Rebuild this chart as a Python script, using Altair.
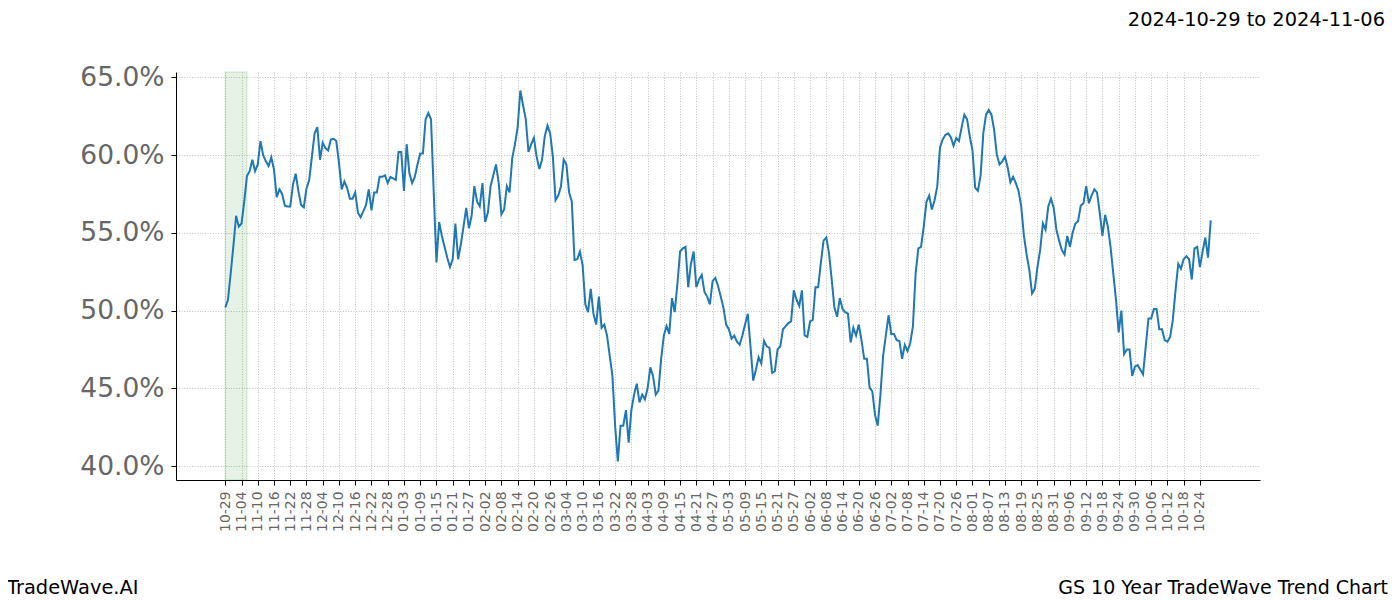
import altair as alt
import pandas as pd

# Daily trend values (percent), one per calendar day starting at the first tick (10-29)
VALUES = [
    50.2, 50.7, 52.4, 54.15, 56.1, 55.4, 55.6, 57.0, 58.65, 58.97,
    59.7, 58.97, 59.4, 60.9, 60.0, 59.6, 59.3, 59.85, 59.06, 57.3,
    57.8, 57.5, 56.75, 56.7, 56.7, 58.1, 58.8, 57.7, 56.8, 56.65,
    57.85, 58.4, 59.9, 61.4, 61.8, 59.7, 60.8, 60.45, 60.3, 61.0,
    61.05, 60.9, 59.5, 57.8, 58.3, 57.9, 57.2, 57.2, 57.6, 56.3,
    56.0, 56.4, 56.8, 57.8, 56.45, 57.6, 57.6, 58.6, 58.6, 58.7,
    58.2, 58.6, 58.5, 58.4, 60.2, 60.2, 57.7, 60.7, 58.85, 58.2,
    58.6, 59.4, 60.1, 60.1, 62.3, 62.7, 62.3, 57.6, 53.1, 55.7,
    54.8, 54.1, 53.4, 52.8, 53.3, 55.6, 53.3, 54.25, 55.4, 56.6,
    55.3, 56.1, 58.0, 57.0, 56.7, 58.2, 55.7, 56.3, 58.0, 58.7,
    59.4, 58.2, 56.2, 56.5, 58.0, 57.6, 59.8, 60.7, 61.8, 64.15,
    63.2, 62.3, 60.2, 60.7, 61.1, 59.9, 59.1, 59.7, 61.2, 61.9,
    61.4, 59.9, 57.1, 57.4, 58.0, 59.7, 59.4, 57.6, 57.0, 53.25,
    53.3, 53.8, 52.9, 50.4, 49.9, 51.4, 49.8, 49.1, 50.9, 48.9,
    49.1, 48.4, 47.1, 45.8, 42.6, 40.3, 42.6, 42.6, 43.6, 41.5,
    43.6, 44.6, 45.3, 44.1, 44.6, 44.3, 45.0, 46.35, 45.8, 44.6,
    44.85, 46.9, 48.4, 49.0, 48.5, 50.8, 49.9, 51.7, 53.8, 54.0,
    54.1, 51.5, 53.0, 53.8, 51.5, 52.0, 52.3, 51.2, 50.9, 50.4,
    51.9, 52.1, 51.6, 50.9, 50.2, 49.1, 48.8, 48.2, 48.4, 48.0,
    47.8, 48.4, 49.1, 49.8, 47.7, 45.5, 46.2, 47.0, 46.6, 48.05,
    47.7, 47.6, 46.0, 46.1, 47.5, 47.7, 48.8, 49.0, 49.2, 49.3,
    51.3, 50.7, 50.3, 51.3, 48.4, 48.3, 49.3, 49.4, 51.5, 51.5,
    53.1, 54.5, 54.7, 53.7, 52.0, 50.2, 49.6, 50.8, 50.1, 49.9,
    49.8, 47.95, 48.9, 48.4, 49.1, 48.1, 46.9, 46.9, 45.05, 44.8,
    43.3, 42.6, 44.6, 47.1, 48.4, 49.7, 48.5, 48.5, 48.1, 48.05,
    46.9, 47.8, 47.4, 47.9, 49.0, 52.4, 54.0, 54.1, 55.4, 57.0,
    57.4, 56.5, 57.1, 58.0, 60.5, 61.0, 61.3, 61.4, 61.15, 60.6,
    61.1, 60.9, 61.8, 62.6, 62.3, 61.2, 60.3, 57.9, 57.7, 58.7,
    61.4, 62.6, 62.9, 62.6, 61.6, 60.0, 59.4, 59.6, 59.9, 59.2,
    58.25, 58.6, 58.2, 57.7, 56.7, 54.8, 53.6, 52.6, 51.1, 51.4,
    52.8, 53.9, 55.6, 55.2, 56.7, 57.2, 56.6, 55.2, 54.5, 53.9,
    53.6, 54.8, 54.1, 55.0, 55.6, 55.75, 56.75, 56.9, 58.0, 56.9,
    57.4, 57.8, 57.6, 56.3, 54.8, 56.15, 55.4, 54.1, 52.4, 50.7,
    48.6, 50.0, 47.2, 47.5, 47.5, 45.8, 46.4, 46.5, 46.2, 45.9,
    47.7, 49.5, 49.5, 50.1, 50.1, 48.8, 48.8, 48.1, 48.0, 48.3,
    49.4, 51.3, 53.0, 52.7, 53.3, 53.5, 53.3, 52.0, 54.0, 54.1,
    52.8, 53.8, 54.7, 53.4, 55.8,
]

TICK_LABELS = [
    "10-29", "11-04", "11-10", "11-16", "11-22", "11-28", "12-04", "12-10",
    "12-16", "12-22", "12-28", "01-03", "01-09", "01-15", "01-21", "01-27",
    "02-02", "02-08", "02-14", "02-20", "02-26", "03-04", "03-10", "03-16",
    "03-22", "03-28", "04-03", "04-09", "04-15", "04-21", "04-27", "05-03",
    "05-09", "05-15", "05-21", "05-27", "06-02", "06-08", "06-14", "06-20",
    "06-26", "07-02", "07-08", "07-14", "07-20", "07-26", "08-01", "08-07",
    "08-13", "08-19", "08-25", "08-31", "09-06", "09-12", "09-18", "09-24",
    "09-30", "10-06", "10-12", "10-18", "10-24",
]
TICK_STEP = 6
Y_TICKS = [40, 45, 50, 55, 60, 65]
WINDOW_START = [0]
WINDOW_END = [8]
TITLE = "2024-10-29 to 2024-11-06"
BRAND = "TradeWave.AI"
CHART_NAME = "GS 10 Year TradeWave Trend Chart"

W, H = 1084, 408
FONT = "DejaVu Sans"

df = pd.DataFrame({"day": list(range(len(VALUES))), "value": VALUES})
n = len(VALUES) - 1
xpad = 0.05 * n
ymin, ymax = min(VALUES), max(VALUES)
ypad = 0.05 * (ymax - ymin)
xscale = alt.Scale(domain=[-xpad, n + xpad], nice=False, zero=False)
yscale = alt.Scale(domain=[ymin - ypad, ymax + ypad], nice=False, zero=False)

label_expr = "[" + ",".join(f"'{t}'" for t in TICK_LABELS) + f"][round(datum.value / {TICK_STEP})]"

x_axis = alt.Axis(
    values=[i * TICK_STEP for i in range(len(TICK_LABELS))], tickCount=500,
    labelExpr=label_expr, labelAngle=270, labelFontSize=13.9, labelColor="#666666",
    labelFont=FONT, tickSize=5, tickColor="black", labelPadding=6,
    domainColor="black", domainWidth=1, grid=True, gridColor="#b0b0b0",
    gridDash=[1, 1.6], gridWidth=0.8, title=None, labelOverlap=False, labelFlush=False,
)
y_axis = alt.Axis(
    values=Y_TICKS, tickCount=50, labelExpr="format(datum.value, '.1f') + '%'",
    labelFontSize=26.5, labelColor="#666666", labelFont=FONT, tickSize=5,
    tickColor="black", labelPadding=7, domainColor="black", domainWidth=1,
    grid=True, gridColor="#b0b0b0", gridDash=[1, 1.6], gridWidth=0.8, title=None,
    labelOverlap=False, labelFlush=False,
)

line = alt.Chart(df).mark_line(color="#1f77b4", strokeWidth=2).encode(
    x=alt.X("day:Q", scale=xscale, axis=x_axis),
    y=alt.Y("value:Q", scale=yscale, axis=y_axis),
)

window = alt.Chart(pd.DataFrame({"start": WINDOW_START, "end": WINDOW_END})).mark_rect(
    fill="green", fillOpacity=0.1, stroke="green", strokeOpacity=0.12, strokeWidth=1.5
).encode(
    x=alt.X("start:Q", scale=xscale),
    x2="end:Q",
    y=alt.value(0),
    y2=alt.value(H),
)


def label(txt, x, y, align, size=19.4):
    return alt.Chart(pd.DataFrame({"t": [txt]})).mark_text(
        align=align, baseline="alphabetic", fontSize=size, font=FONT, color="black"
    ).encode(x=alt.value(x), y=alt.value(y), text="t:N")


chart = alt.layer(
    window,
    line,
    label(TITLE, 1209, -46, "right"),
    label(BRAND, -169, 522, "left"),
    label(CHART_NAME, 1212, 522, "right", 19.0),
).properties(
    width=W,
    height=H,
    autosize=alt.AutoSizeParams(type="none"),
    padding={"left": 168, "top": 64, "right": 132, "bottom": 122},
).configure_view(stroke=None)

chart.save("out.html", embed_options={"renderer": "svg", "actions": False})
